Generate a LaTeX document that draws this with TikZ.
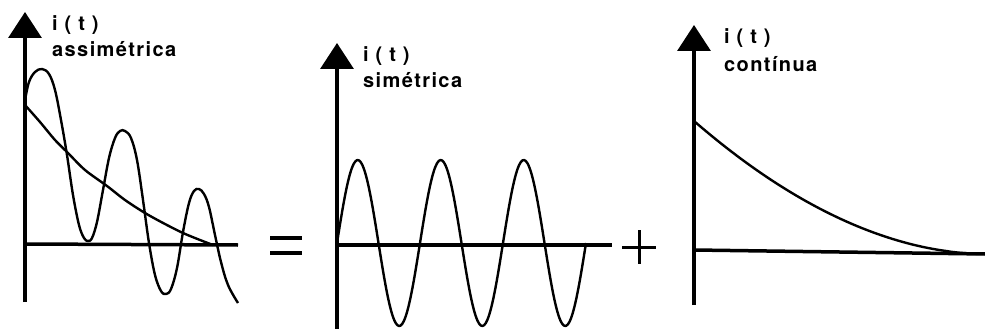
\documentclass[tikz,border=0pt]{standalone}
\usepackage{fontspec}
\setsansfont{TeX Gyre Heros}[LetterSpace=7]
\usetikzlibrary{arrows.meta}

\begin{document}
\begin{tikzpicture}[
  x=1pt, y=-1pt,
  iaxis/.style={line width=3.5pt, -{Triangle[length=26pt,width=33pt]}},
  base/.style={line width=3.5pt},
  curve/.style={line width=2.4pt, line join=round},
  lbl/.style={anchor=base west, inner sep=0pt, font=\sffamily\bfseries\fontsize{20}{24}\selectfont},
]
  \useasboundingbox (0,0) rectangle (985,329);

  % assimetrica
  \coordinate (o1) at (25,244);
  \coordinate (b1) at (25,302);
  \coordinate (t1) at (25,12);
  \coordinate (e1) at (238,245);
  \draw[iaxis] (b1) -- (t1);
  \draw[base] (o1) -- (e1);
  \node[lbl] (it1) at (52,31) {i ( t )};
  \node[lbl] (name1) at (52,57) {assimétrica};
  \draw[curve] plot[smooth, tension=0.6] coordinates {
    (25,100) (29,82) (35,72) (42,69) (49,74) (55,90) (61,120) (67,155)
    (73,195) (79,225) (84,238) (88,241) (92,238) (97,222) (103,190)
    (109,158) (115,138) (120,131) (125,131) (131,138) (137,160) (143,200)
    (149,243) (155,275) (161,291) (166,294) (171,289) (177,268) (183,232)
    (189,203) (194,191) (199,189) (204,194) (209,207) (215,235) (221,262)
    (228,285) (238,303)};
  \draw[curve] plot[smooth] coordinates {
    (25,105) (40,122) (55,140) (68,153) (85,170) (107,186) (125,200)
    (145,213) (165,224) (183,233) (200,240) (213,245)};

  % =
  \coordinate (eqa) at (270,238);
  \coordinate (eqb) at (302,238);
  \coordinate (eqc) at (270,253);
  \coordinate (eqd) at (302,253);
  \draw[base] (eqa) -- (eqb);
  \draw[base] (eqc) -- (eqd);

  % simetrica
  \coordinate (o2) at (337,245);
  \coordinate (b2) at (337,329);
  \coordinate (t2) at (337,43);
  \coordinate (e2) at (612,245);
  \draw[iaxis] (b2) -- (t2);
  \draw[base] (o2) -- (e2);
  \node[lbl] (it2) at (363,62) {i ( t )};
  \node[lbl] (name2) at (363,87) {simétrica};
  \draw[curve] plot[domain=0:249, samples=150, smooth] ({337+\x},{243-83*sin(4.3373*\x)});

  % +
  \coordinate (pa) at (622,247);
  \coordinate (pb) at (656,247);
  \coordinate (pc) at (639,230);
  \coordinate (pd) at (639,264);
  \draw[line width=3pt] (pa) -- (pb);
  \draw[line width=3pt] (pc) -- (pd);

  % continua
  \coordinate (o3) at (694,250);
  \coordinate (b3) at (694,305);
  \coordinate (t3) at (694,25);
  \coordinate (e3) at (985,254);
  \draw[iaxis] (b3) -- (t3);
  \draw[base] (o3) -- (e3);
  \node[lbl] (it3) at (724,44) {i ( t )};
  \node[lbl] (name3) at (724,72) {contínua};
  \draw[curve] plot[domain=0:290, samples=80, smooth] ({694+\x},{254-133*(1-\x/291)^1.9});
\end{tikzpicture}
\end{document}
